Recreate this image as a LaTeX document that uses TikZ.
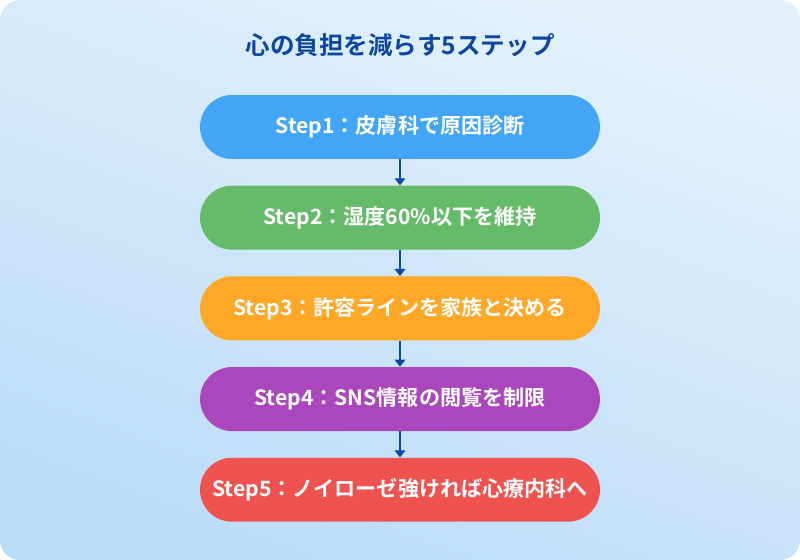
\documentclass[tikz,border=0pt]{standalone}
\usepackage{fontspec}
\setmainfont{Noto Sans CJK JP}[BoldFont={* Bold}]
\usetikzlibrary{positioning, arrows.meta}
\definecolor{bgtl}{HTML}{E3F1FD}
\definecolor{bgbr}{HTML}{BBDCF8}
\definecolor{titleblue}{HTML}{0D47A1}
\definecolor{stepone}{HTML}{42A5F5}
\definecolor{steptwo}{HTML}{66BB6A}
\definecolor{stepthree}{HTML}{FFA726}
\definecolor{stepfour}{HTML}{AB47BC}
\definecolor{stepfive}{HTML}{EF5350}
\begin{document}
\begin{tikzpicture}[
  x=0.02cm, y=-0.02cm,
  stepbox/.style={rounded corners=0.64cm, minimum width=8cm, minimum height=1.28cm,
    text=white, font=\bfseries\fontsize{12}{14}\selectfont, inner sep=0pt},
  link/.style={very thick, titleblue, -{Triangle[width=6pt,length=4pt]}}
  ]
    % background
    \shade[rounded corners=0.4cm, top color=bgtl, bottom color=bgbr, shading angle=-20]
      (0,0) rectangle (800,560);
    \useasboundingbox (0,0) rectangle (800,560);

    \node[text=titleblue, font=\bfseries\fontsize{14}{16}\selectfont] (title) at (400,45) {心の負担を減らす5ステップ};

    % steps
    \node[stepbox, fill=stepone] (s1) at (400,127) {Step1：皮膚科で原因診断};
    \node[stepbox, fill=steptwo, below=0.52cm of s1] (s2) {Step2：湿度60\%以下を維持};
    \node[stepbox, fill=stepthree, below=0.52cm of s2] (s3) {Step3：許容ラインを家族と決める};
    \node[stepbox, fill=stepfour, below=0.52cm of s3] (s4) {Step4：SNS情報の閲覧を制限};
    \node[stepbox, fill=stepfive, below=0.52cm of s4] (s5) {Step5：ノイローゼ強ければ心療内科へ};

    % arrows
    \foreach \a/\b in {s1/s2, s2/s3, s3/s4, s4/s5}
      \draw[link] (\a.south) -- (\b.north);
\end{tikzpicture}
\end{document}
